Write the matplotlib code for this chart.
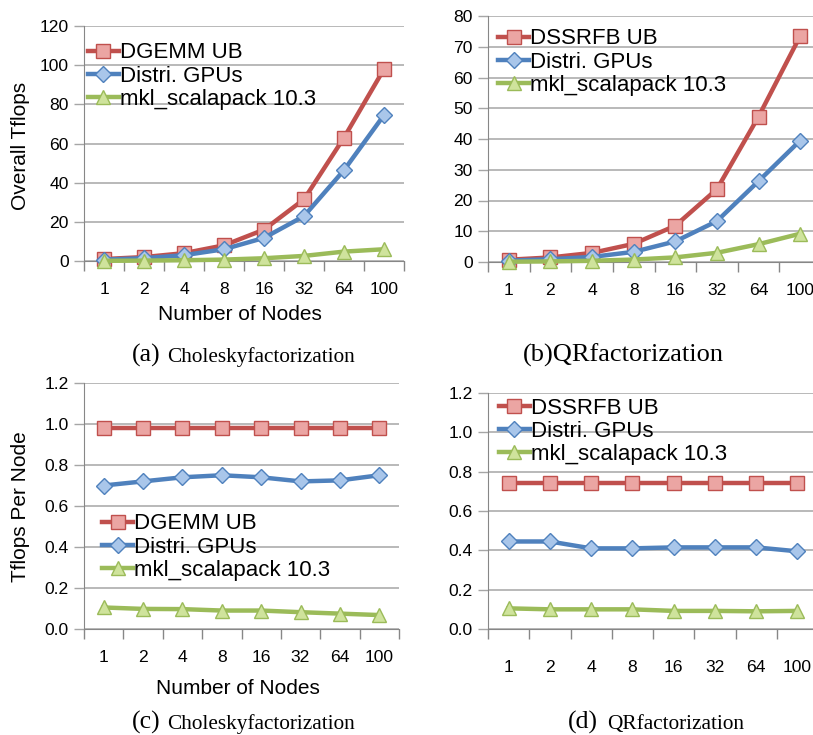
import numpy as np
import matplotlib
matplotlib.use('Agg')
import matplotlib.pyplot as plt

plt.rcParams['font.family'] = ['Liberation Sans', 'DejaVu Sans']

nodes = ['1', '2', '4', '8', '16', '32', '64', '100']

# (a) Cholesky overall Tflops
chol_ub = [1.0, 2.0, 4.0, 8.0, 16.0, 31.5, 63.0, 98.0]
chol_gpu = [0.7, 1.44, 2.96, 6.0, 11.8, 22.9, 46.4, 74.5]
chol_mkl = [0.1, 0.2, 0.4, 0.72, 1.4, 2.6, 4.8, 6.0]

# (b) QR overall Tflops
qr_ub = [0.74, 1.48, 2.96, 5.9, 11.8, 23.7, 47.3, 73.5]
qr_gpu = [0.45, 0.9, 1.65, 3.3, 6.7, 13.3, 26.3, 39.5]
qr_mkl = [0.1, 0.2, 0.4, 0.8, 1.5, 3.0, 5.8, 9.2]

# (c) Cholesky Tflops per node
chol_ub_pn = [0.98, 0.98, 0.98, 0.98, 0.98, 0.98, 0.98, 0.98]
chol_gpu_pn = [0.70, 0.72, 0.74, 0.75, 0.74, 0.72, 0.725, 0.75]
chol_mkl_pn = [0.105, 0.098, 0.097, 0.09, 0.09, 0.082, 0.075, 0.068]

# (d) QR Tflops per node
qr_ub_pn = [0.74, 0.74, 0.74, 0.74, 0.74, 0.74, 0.74, 0.74]
qr_gpu_pn = [0.445, 0.445, 0.41, 0.41, 0.415, 0.415, 0.415, 0.395]
qr_mkl_pn = [0.105, 0.1, 0.1, 0.1, 0.092, 0.092, 0.09, 0.092]

RED, RED_F = '#C0504D', '#EBA5A3'
BLUE, BLUE_F = '#4F81BD', '#A9C6EA'
GREEN, GREEN_F = '#9BBB59', '#CFE39C'
GRID = '#A6A6A6'

W, H = 813, 735
fig = plt.figure(figsize=(W / 100, H / 100), dpi=100)


def px_axes(left, right, top, bottom):
    return fig.add_axes([left / W, 1 - bottom / H, (right - left) / W, (bottom - top) / H])


def style_panel(ax, series, labels, ymax, ystep, fmt, leg_xy, xlab_pad):
    x = np.arange(len(nodes))
    specs = [(RED, RED_F, 's', 9.5), (BLUE, BLUE_F, 'D', 8), (GREEN, GREEN_F, '^', 9.5)]
    for vals, lab, (c, fc, m, ms) in zip(series, labels, specs):
        ax.plot(x, vals, color=c, lw=3.2, marker=m, ms=ms, mfc=fc, mec=c, mew=1.0,
                label=lab, clip_on=False, zorder=3)
    ax.set_xlim(-0.5, len(nodes) - 0.5)
    ax.set_ylim(0, ymax)
    ax.set_yticks(np.arange(0, ymax + ystep / 2, ystep))
    ax.yaxis.set_major_formatter(matplotlib.ticker.FormatStrFormatter(fmt))
    ax.set_xticks(np.arange(-0.5, len(nodes), 1.0))
    ax.set_xticklabels([])
    ax.set_xticks(x, minor=True)
    ax.set_xticklabels(nodes, minor=True)
    ax.tick_params(axis='x', which='minor', length=0, pad=xlab_pad, labelsize=12.6)
    ax.tick_params(axis='x', which='major', length=7, color='#878787', width=1)
    ax.tick_params(axis='y', length=7, color=GRID, width=1, pad=4, labelsize=12.6)
    ax.grid(axis='y', color=GRID, lw=1.1, zorder=0)
    ax.set_axisbelow(True)
    for s in ['top', 'right']:
        ax.spines[s].set_visible(False)
    ax.spines['left'].set_color('#878787')
    ax.spines['bottom'].set_color('#878787')
    ax.legend(loc='upper left', bbox_to_anchor=leg_xy, frameon=False, fontsize=16,
              borderpad=0, borderaxespad=0, labelspacing=0.1, handlelength=1.4,
              handletextpad=0.05)


ax_a = px_axes(84, 404, 26, 261)
style_panel(ax_a, [chol_ub, chol_gpu, chol_mkl], ['DGEMM UB', 'Distri. GPUs', 'mkl_scalapack 10.3'],
            120, 20, '%d', (0.012, 0.93), 15)

ax_b = px_axes(488, 821, 16, 262)
style_panel(ax_b, [qr_ub, qr_gpu, qr_mkl], ['DSSRFB UB', 'Distri. GPUs', 'mkl_scalapack 10.3'],
            80, 10, '%d', (0.03, 0.95), 15)

ax_c = px_axes(84, 399, 383, 629)
style_panel(ax_c, [chol_ub_pn, chol_gpu_pn, chol_mkl_pn], ['DGEMM UB', 'Distri. GPUs', 'mkl_scalapack 10.3'],
            1.2, 0.2, '%.1f', (0.057, 0.47), 15)

ax_d = px_axes(488, 818, 393, 629)
style_panel(ax_d, [qr_ub_pn, qr_gpu_pn, qr_mkl_pn], ['DSSRFB UB', 'Distri. GPUs', 'mkl_scalapack 10.3'],
            1.2, 0.2, '%.1f', (0.033, 0.98), 22)

# axis titles
fig.text(21 / W, 1 - 146 / H, 'Overall Tflops', rotation=90, ha='center', va='center', fontsize=15)
fig.text(240 / W, 1 - 315 / H, 'Number of Nodes', ha='center', va='center', fontsize=15)
fig.text(21 / W, 1 - 507 / H, 'Tflops Per Node', rotation=90, ha='center', va='center', fontsize=15)
fig.text(238 / W, 1 - 688 / H, 'Number of Nodes', ha='center', va='center', fontsize=15)

# captions
serif = ['Liberation Serif', 'DejaVu Serif']
fig.text(132 / W, 1 - 362 / H, '(a)', family=serif, fontsize=18.5, va='baseline')
fig.text(167 / W, 1 - 362 / H, 'Choleskyfactorization', family=serif, fontsize=15.3, va='baseline')
fig.text(523 / W, 1 - 362 / H, '(b)QRfactorization', family=serif, fontsize=19, va='baseline')
fig.text(132 / W, 1 - 729 / H, '(c)', family=serif, fontsize=18.5, va='baseline')
fig.text(167 / W, 1 - 729 / H, 'Choleskyfactorization', family=serif, fontsize=15.3, va='baseline')
fig.text(568 / W, 1 - 729 / H, '(d)', family=serif, fontsize=18.5, va='baseline')
fig.text(607 / W, 1 - 729 / H, 'QRfactorization', family=serif, fontsize=15.3, va='baseline')

fig.savefig('out.png', dpi=100)
